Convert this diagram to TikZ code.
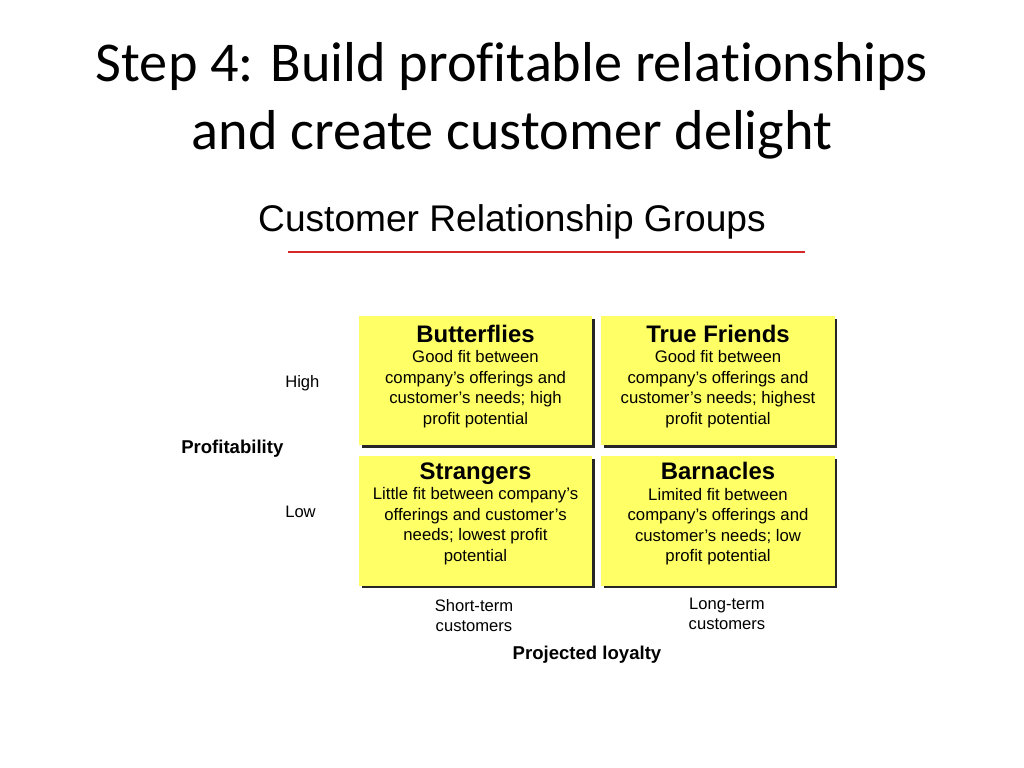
\documentclass[tikz,border=0pt]{standalone}
\usepackage{fontspec}
\setmainfont{Liberation Sans}
\newfontfamily\slidefont[Ligatures=NoCommon]{Carlito}
\usetikzlibrary{positioning,shadows}
\definecolor{cellyellow}{RGB}{255,255,102}
\definecolor{rulered}{RGB}{214,40,40}
\newcommand{\groupname}[1]{{\fontsize{17}{20}\selectfont\bfseries #1}}

\begin{document}
\begin{tikzpicture}[x=0.025cm,y=0.025cm,
		cell/.style={rectangle,fill=cellyellow,inner sep=0pt,minimum width=5.83cm,minimum height=3.23cm,
			drop shadow={shadow xshift=0.07cm,shadow yshift=-0.07cm,opacity=1,fill=black!85}},
		celltext/.style={align=center,inner sep=0pt,font=\fontsize{11.9}{14.6}\selectfont},
		axislabel/.style={inner sep=0pt,align=center,font=\fontsize{11.8}{14.3}\selectfont},
		axisname/.style={inner sep=0pt,font=\fontsize{13.2}{16}\selectfont\bfseries}]
	\useasboundingbox (0,0) rectangle (1024,768);
	% slide heading
	\node[inner sep=0pt,anchor=north,align=center,font=\slidefont\fontsize{40}{48.5}\selectfont] (heading) at (512,726)
		{Step 4: Build profitable relationships\\and create customer delight};
	\node[inner sep=0pt,anchor=base,font=\fontsize{26.4}{30}\selectfont] (groups) at (512,536) {Customer Relationship Groups};
	\coordinate (ruleL) at (288,516);
	\coordinate (ruleR) at (805,516);
	\draw[rulered,line width=1.8pt] (ruleL) -- (ruleR);
	% the four groups
	\node[cell] (bfly) at (475.5,387.5) {};
	\node[cell] (friends) at (718,387.5) {};
	\node[cell] (strangers) at (475.5,247) {};
	\node[cell] (barnacles) at (718,247) {};
	\node[celltext] (bflyText) [below=0.22cm of bfly.north]
		{\groupname{Butterflies}\\Good fit between\\company’s offerings and\\customer’s needs; high\\profit potential};
	\node[celltext] (friendsText) [below=0.22cm of friends.north]
		{\groupname{True Friends}\\Good fit between\\company’s offerings and\\customer’s needs; highest\\profit potential};
	\node[celltext] (strangersText) [below=0.15cm of strangers.north]
		{\groupname{Strangers}\\Little fit between company’s\\offerings and customer’s\\needs; lowest profit\\potential};
	\node[celltext] (barnaclesText) [below=0.15cm of barnacles.north]
		{\groupname{Barnacles}\\Limited fit between\\company’s offerings and\\customer’s needs; low\\profit potential};
	% axes
	\node[axislabel,anchor=base west] (high) at (285,380) {High};
	\node[axislabel,anchor=base west] (low) at (285,250) {Low};
	\node[axisname,anchor=base west] (profit) at (181,314) {Profitability};
	\node[axislabel,anchor=north] (shortTerm) at (474,169) {Short-term\\customers};
	\node[axislabel,anchor=north] (longTerm) at (727,170) {Long-term\\customers};
	\node[axisname,anchor=base] (loyalty) at (587,108) {Projected loyalty};
\end{tikzpicture}
\end{document}
